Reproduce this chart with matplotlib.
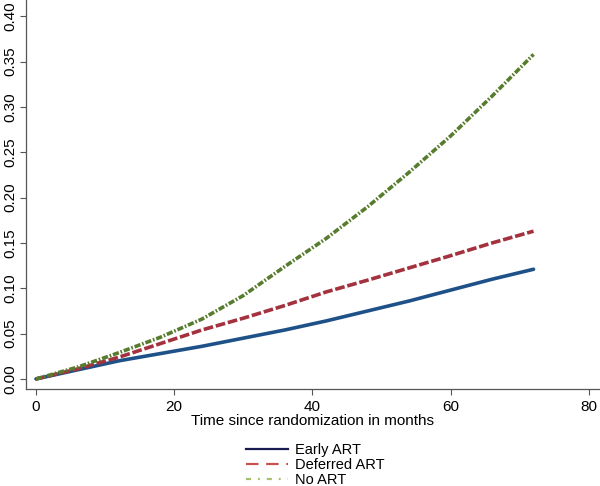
import matplotlib
matplotlib.use("Agg")
import matplotlib.pyplot as plt
from matplotlib.lines import Line2D

plt.rcParams.update({"font.family": ["Liberation Sans", "DejaVu Sans"],
                     "lines.scale_dashes": False})

## Données (incidence cumulée)
months = [0, 6, 12, 18, 24, 30, 36, 42, 48, 54, 60, 66, 72]
early_art = [0.000, 0.010, 0.020, 0.028, 0.036, 0.045, 0.054, 0.064, 0.075, 0.086, 0.098, 0.110, 0.121]
deferred_art = [0.000, 0.011, 0.024, 0.039, 0.054, 0.067, 0.081, 0.096, 0.109, 0.1225, 0.136, 0.150, 0.163]
no_art = [0.000, 0.013, 0.029, 0.046, 0.066, 0.092, 0.124, 0.155, 0.190, 0.228, 0.268, 0.312, 0.358]

labels = ["Early ART", "Deferred ART", "No ART"]
x_ticks = [0, 20, 40, 60, 80]
y_ticks = [0.00, 0.05, 0.10, 0.15, 0.20, 0.25, 0.30, 0.35, 0.40]

fig = plt.figure(figsize=(6, 4.86), dpi=100)
ax = fig.add_axes([0.0428, 0.199, 0.957, 0.801])

ax.plot(months, early_art, color="#1f5189", lw=2.6, solid_capstyle="round")
ax.plot(months, deferred_art, color="#a3323e", lw=2.6, dashes=(7.0, 2.0))
ax.plot(months, no_art, color="#587c2e", lw=2.6, dashes=(4.5, 1.3, 1.2, 1.3))

ax.set_xlim(-1.49, 81.6)
ax.set_ylim(-0.0114, 0.418)
ax.set_xticks(x_ticks)
ax.set_yticks(y_ticks)
ax.set_yticklabels([f"{v:.2f}" for v in y_ticks], rotation=90, va="center")
ax.tick_params(labelsize=11, length=4, width=0.8, color="#555555")
ax.tick_params(axis="y", pad=2)
ax.tick_params(axis="x", pad=4)
for s in ["top", "right"]:
    ax.spines[s].set_visible(False)
for s in ["left", "bottom"]:
    ax.spines[s].set_color("#555555")
    ax.spines[s].set_linewidth(0.9)

ax.set_xlabel("Time since randomization in months", fontsize=11, labelpad=0)

## Légende (couleurs plus claires comme sur l'original)
handles = [
    Line2D([], [], color="#1a1a52", lw=1.6),
    Line2D([], [], color="#c8504f", lw=1.6, dashes=(9, 5.5)),
    Line2D([], [], color="#a6c06c", lw=1.6, dashes=(3.6, 5.0, 1.4, 5.0)),
]
fig.legend(handles, labels, loc="upper left", bbox_to_anchor=(0.41, 0.088),
           frameon=False, fontsize=10.5, handlelength=2.9, handletextpad=0.45,
           labelspacing=0.05, borderpad=0, borderaxespad=0)

fig.savefig("out.png", dpi=100)
